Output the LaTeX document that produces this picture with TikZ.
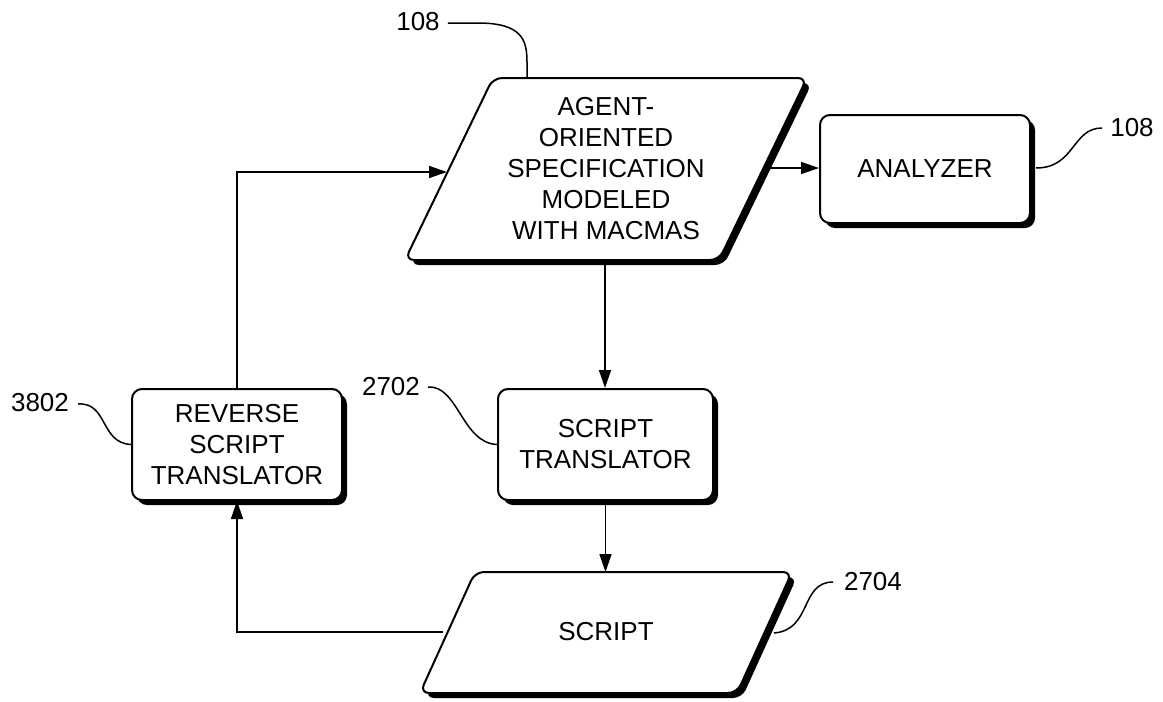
\documentclass[tikz,border=0pt]{standalone}
\usepackage{fontspec}
\setmainfont{Liberation Sans}
\usetikzlibrary{arrows.meta,shadows}
\begin{document}
\begin{tikzpicture}[x=1pt,y=-1pt,
  txt/.style={font=\fontsize{26}{31}\selectfont, align=center, inner sep=0pt},
  shad/.style={drop shadow={shadow xshift=5pt, shadow yshift=-5pt, fill=black, opacity=1}},
  boxx/.style={draw, line width=2pt, rounded corners=10pt, fill=white, shad, txt},
  para/.style={draw, line width=2pt, rounded corners=9pt, fill=white, shad},
  conn/.style={line width=1.5pt, -{Triangle[length=18pt,width=12pt]}},
  lead/.style={line width=1.5pt},
  lbl/.style={font=\fontsize{26}{31}\selectfont, inner sep=0pt}
]
\useasboundingbox (0,0) rectangle (1163,702);

% top parallelogram
\path[para] (405,260) -- (493,78) -- (807,78) -- (719,260) -- cycle;
\node[txt] (spec) at (606,169) {AGENT-\\ORIENTED\\SPECIFICATION\\MODELED\\WITH MACMAS};
\coordinate (specL) at (447,172);
\coordinate (specR) at (764,168);
\coordinate (specB) at (605,260);
\coordinate (specT) at (527,78);

% analyzer
\node[boxx, minimum width=210pt, minimum height=108pt] (ana) at (925,169) {ANALYZER};

% reverse script translator
\node[boxx, minimum width=210pt, minimum height=111pt] (rev) at (237,444.5) {REVERSE\\SCRIPT\\TRANSLATOR};

% script translator
\node[boxx, minimum width=215pt, minimum height=111pt] (st) at (605.5,444.5) {SCRIPT\\TRANSLATOR};

% script parallelogram
\path[para] (420,693) -- (475,572) -- (792,572) -- (737,693) -- cycle;
\node[txt] (scr) at (606,632) {SCRIPT};
\coordinate (scrL) at (443,632);
\coordinate (scrT) at (605.5,572);
\coordinate (scrR) at (774,633);

% connectors
\coordinate (c1) at (237,172);
\coordinate (c2) at (237,632);
\draw[conn] (rev.north -| c1) -- (c1) -- (specL);
\draw[conn] (specR) -- (specR -| ana.west);
\draw[conn] (specB) -- (specB |- st.north);
\draw[conn] (st.south) -- (scrT);
\draw[conn] (scrL) -- (c2) -- (rev.south -| c2);

% labels
\node[lbl] (l108a) at (418,22) {108};
\draw[lead] (l108a.east) ++(8,1) coordinate (a0) -- ++(30,0) coordinate (a1) .. controls (522,23) and (527,40) .. (527,62) -- (specT);

\node[lbl] (l108b) at (1132,128) {108};
\draw[lead] (ana.east) ++(5,-1) coordinate (b0) .. controls (1075,168) and (1072,128) .. (1102,128) coordinate (b1);

\node[lbl] (l3802) at (40,403) {3802};
\draw[lead] (78,404) .. controls (108,402) and (100,443) .. (rev.west);

\node[lbl] (l2702) at (391,387) {2702};
\draw[lead] (428,387) .. controls (458,385) and (462,443) .. (st.west);

\node[lbl] (l2704) at (873,582) {2704};
\draw[lead] (scrR) .. controls (812,630) and (800,582) .. (833,582);
\end{tikzpicture}
\end{document}
